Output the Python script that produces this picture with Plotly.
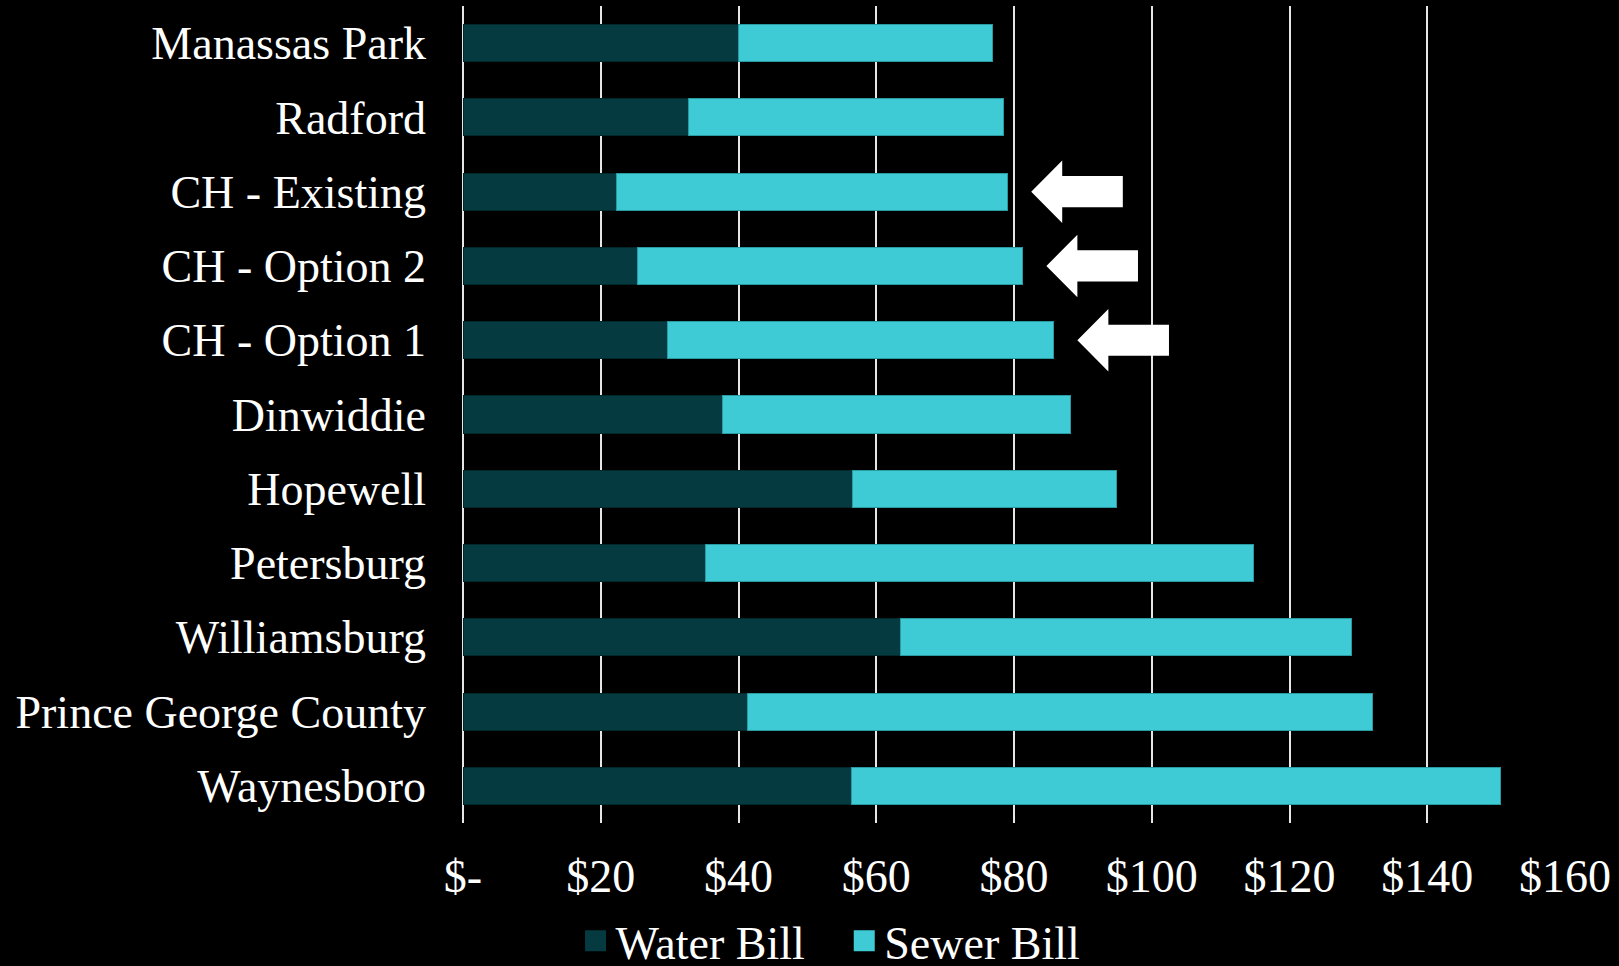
import plotly.graph_objects as go

categories = ["Manassas Park", "Radford", "CH - Existing", "CH - Option 2", "CH - Option 1",
              "Dinwiddie", "Hopewell", "Petersburg", "Williamsburg", "Prince George County", "Waynesboro"]
water_bill = [40.0, 32.7, 22.3, 25.3, 29.7, 37.7, 56.6, 35.2, 63.5, 41.3, 56.4]
sewer_bill = [36.9, 45.8, 56.8, 56.0, 56.1, 50.5, 38.3, 79.6, 65.5, 90.8, 94.3]
x_tick_vals = [0, 20, 40, 60, 80, 100, 120, 140, 160]
x_tick_text = ["$-", "$20", "$40", "$60", "$80", "$100", "$120", "$140", "$160"]
series_names = ["Water Bill", "Sewer Bill"]
highlighted = ["CH - Existing", "CH - Option 2", "CH - Option 1"]

FONT = "Liberation Serif"
FSIZE = 46
WATER_COLOR = "#043a40"
SEWER_COLOR = "#3fcbd6"

pos = list(range(len(categories)))

fig = go.Figure()
fig.add_trace(go.Bar(
    y=pos, x=water_bill, orientation="h", name=series_names[0], width=0.5,
    marker=dict(color=WATER_COLOR, line=dict(color="#02282c", width=1)),
    showlegend=False,
))
fig.add_trace(go.Bar(
    y=pos, x=sewer_bill, orientation="h", name=series_names[1], width=0.5,
    marker=dict(color=SEWER_COLOR, line=dict(color="#2a9aa2", width=1)),
    showlegend=False,
))
# legend entries (larger square swatches)
legend_labels = [series_names[0] + "\u00a0\u00a0\u00a0", series_names[1]]
for nm, col in zip(legend_labels, [WATER_COLOR, SEWER_COLOR]):
    fig.add_trace(go.Scatter(
        x=[None], y=[None], mode="markers", name=nm,
        marker=dict(symbol="square", size=16, color=col, line=dict(color=col, width=5)),
        showlegend=True,
    ))

# white block arrows pointing at the CH bars
gap, head_len, total_len = 3.4, 4.5, 13.3
head_h, shaft_h = 0.42, 0.21
shapes = []
for name in highlighted:
    i = categories.index(name)
    tot = water_bill[i] + sewer_bill[i]
    tip = tot + gap
    back = tip + head_len
    tail = tip + total_len
    path = (f"M {tip},{i} L {back},{i - head_h} L {back},{i - shaft_h} "
            f"L {tail},{i - shaft_h} L {tail},{i + shaft_h} L {back},{i + shaft_h} "
            f"L {back},{i + head_h} Z")
    shapes.append(dict(type="path", path=path, xref="x", yref="y",
                       fillcolor="white", line=dict(color="white", width=0)))

fig.update_layout(
    width=1619, height=966,
    paper_bgcolor="black", plot_bgcolor="black",
    barmode="stack",
    margin=dict(l=463, r=54, t=6, b=143, autoexpand=False),
    font=dict(family=FONT, color="white", size=FSIZE),
    shapes=shapes,
    showlegend=True,
    legend=dict(orientation="h", xref="container", yref="container",
                x=0.513, xanchor="center", y=0.026, yanchor="middle",
                font=dict(family=FONT, size=FSIZE, color="white"),
                bgcolor="rgba(0,0,0,0)", traceorder="normal",
                itemwidth=30, tracegroupgap=0),
    xaxis=dict(range=[0, 160], tickvals=x_tick_vals, ticktext=x_tick_text,
               showgrid=True, gridcolor="#e6e6e6", gridwidth=1.5,
               zeroline=True, zerolinecolor="#e6e6e6", zerolinewidth=1.5,
               showline=False, ticks="", ticklabelstandoff=22,
               tickfont=dict(family=FONT, size=FSIZE, color="white")),
    yaxis=dict(range=[len(categories) - 0.5, -0.5], tickvals=pos, ticktext=categories,
               showgrid=False, zeroline=False, showline=False, ticks="",
               ticklabelstandoff=36,
               tickfont=dict(family=FONT, size=FSIZE, color="white")),
)

fig.write_html(
    "out.html",
    config={"displayModeBar": False},
    post_script="document.body.style.margin='0';document.body.style.background='black';",
)
